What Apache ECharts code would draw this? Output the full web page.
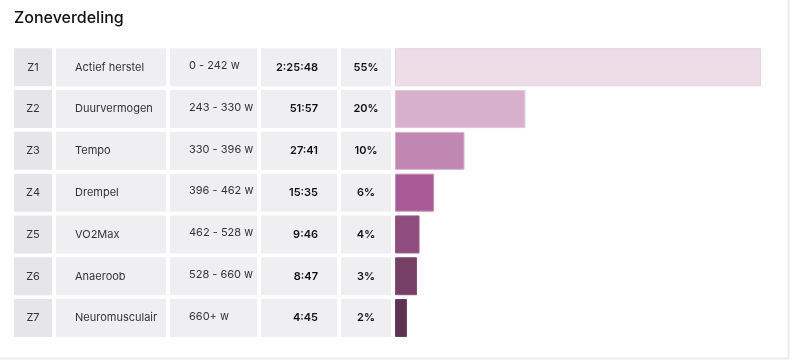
<!DOCTYPE html>
<html>
<head>
<meta charset="utf-8">
<script src="https://cdn.jsdelivr.net/npm/echarts@6/dist/echarts.min.js"></script>
<style>
html,body{margin:0;padding:0;background:#fff;}
#c{width:800px;height:361px;}
</style>
</head>
<body>
<div id="c"></div>
<script>
var zones = ['Z1','Z2','Z3','Z4','Z5','Z6','Z7'];
var zoneNames = ['Actief herstel','Duurvermogen','Tempo','Drempel','VO2Max','Anaeroob','Neuromusculair'];
var powerRanges = ['0 - 242 w','243 - 330 w','330 - 396 w','396 - 462 w','462 - 528 w','528 - 660 w','660+ w'];
var timeLabels = ['2:25:48','51:57','27:41','15:35','9:46','8:47','4:45'];
var percentLabels = ['55%','20%','10%','6%','4%','3%','2%'];
var timeSeconds = [8748, 3117, 1661, 935, 586, 527, 285];
var barColors = ['#ecdde7','#d7b1cb','#bf87b1','#a75a96','#8f4c7e','#763f66','#5e3352'];
var barBorders = ['#e6d2df','#e3c6da','#d9b3cf','#c98cba','#9a5a8a','#85507a','#6b3f60'];

var FONT = 'Inter, "Noto Sans", sans-serif';
var chart = echarts.init(document.getElementById('c'), null, {renderer:'canvas'});

function cellRender(params, api) {
  var i = api.value(1);
  var cy = api.coord([0, i])[1];
  var h = 38;
  var top = cy - h / 2;
  var cols = [[14,52,'#e6e6e8'],[56,166,'#efeff1'],[170,257,'#efeff1'],[261,337,'#efeff1'],[341,391,'#efeff1']];
  var children = [];
  cols.forEach(function(c){
    children.push({type:'rect', shape:{x:c[0], y:top, width:c[1]-c[0], height:h}, style:{fill:c[2]}});
  });
  var base = {fill:'#222', font:'11px ' + FONT, textVerticalAlign:'middle'};
  children.push({type:'text', style:Object.assign({}, base, {text:zones[i], x:33, y:cy, textAlign:'center', fill:'#333'})});
  children.push({type:'text', style:Object.assign({}, base, {text:zoneNames[i], x:75, y:cy, textAlign:'left', fill:'#333'})});
  children.push({type:'text', style:Object.assign({}, base, {text:powerRanges[i], x:189, y:cy-1.5, textAlign:'left', fill:'#333'})});
  children.push({type:'text', style:Object.assign({}, base, {text:timeLabels[i], x:318, y:cy, textAlign:'right', fill:'#111', font:'600 11px ' + FONT})});
  children.push({type:'text', style:Object.assign({}, base, {text:percentLabels[i], x:366, y:cy, textAlign:'center', fill:'#111', font:'600 11px ' + FONT})});
  return {type:'group', children:children};
}

chart.setOption({
  animation:false,
  title:{text:'Zoneverdeling', left:14, top:10, padding:0, textStyle:{fontFamily:FONT, fontSize:16, fontWeight:500, color:'#111'}},
  graphic:[{type:'rect', left:-10, top:-10, shape:{x:0,y:0,width:796,height:366}, style:{fill:'none', stroke:'#ebebf0', lineWidth:2}, z:-10}],
  grid:{left:395, width:366, top:46.4, height:292.5},
  xAxis:{type:'value', min:0, max:8748, show:false},
  yAxis:{type:'category', data:zones, inverse:true, show:false},
  series:[
    {type:'custom', renderItem:cellRender, data:zones.map(function(z,i){return [0,i];}), silent:true},
    {type:'bar', barWidth:38, data:timeSeconds.map(function(v,i){return {value:v, itemStyle:{color:barColors[i], borderColor:barBorders[i], borderWidth:1}};})}
  ]
});
</script>
</body>
</html>
